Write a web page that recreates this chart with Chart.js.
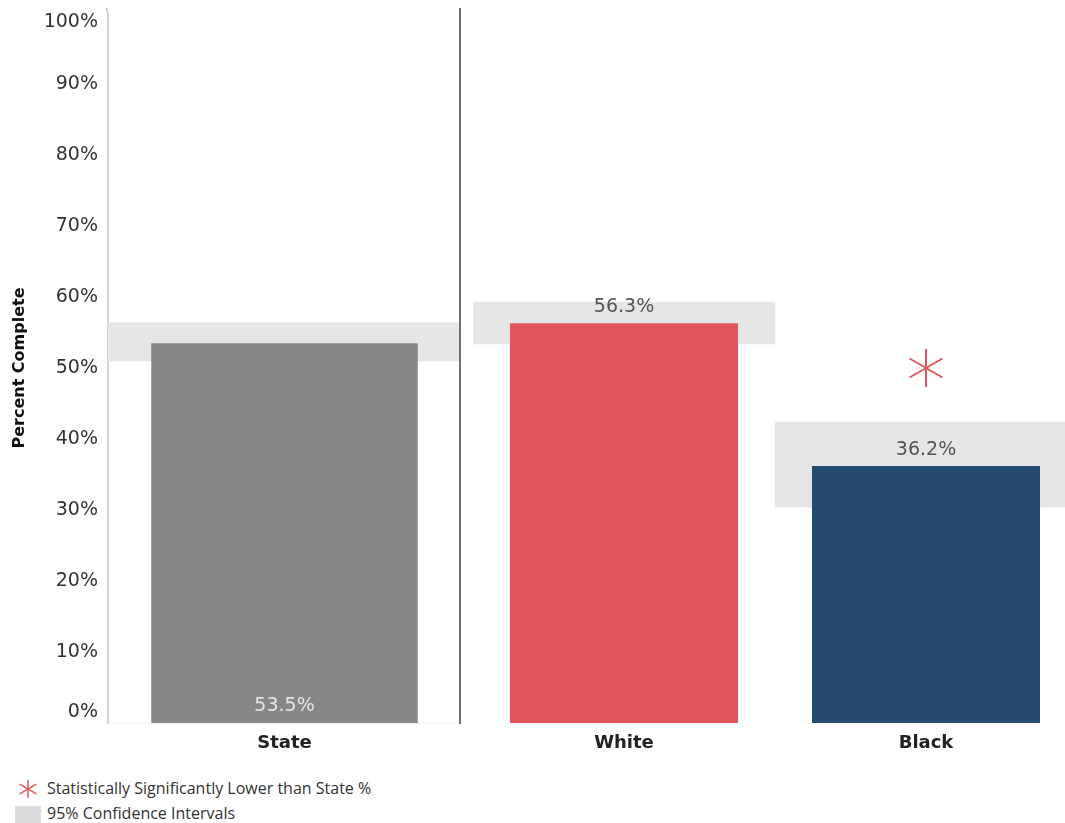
<!DOCTYPE html>
<html>
<head>
<meta charset="utf-8">
<script src="https://cdn.jsdelivr.net/npm/chart.js@4.4.1/dist/chart.umd.min.js"></script>
<style>
  html, body { margin:0; padding:0; background:#fff; overflow:hidden; width:1065px; height:823px; }
  #c1wrap { position:absolute; left:0; top:0; width:461px; height:755px; }
  #c2wrap { position:absolute; left:460px; top:0; width:617px; height:755px; }
  .leg { position:absolute; font-family:"Open Sans", sans-serif; font-size:16px; color:#333; line-height:20px; white-space:nowrap; }
  #legbox { position:absolute; left:15px; top:806px; width:26px; height:17px; background:#dcdcdc; }
</style>
</head>
<body>
<div id="c1wrap"><canvas id="c1"></canvas></div>
<div id="c2wrap"><canvas id="c2"></canvas></div>

<svg style="position:absolute;left:18px;top:779px" width="20" height="20" viewBox="-10 -10 20 20">
  <g stroke="#e15759" stroke-width="1.5">
    <line x1="0" y1="-9" x2="0" y2="9"/>
    <line x1="-8.5" y1="-4.9" x2="8.5" y2="4.9"/>
    <line x1="-8.5" y1="4.9" x2="8.5" y2="-4.9"/>
  </g>
</svg>
<div class="leg" style="left:47px;top:778px">Statistically Significantly Lower than State %</div>
<div id="legbox"></div>
<div class="leg" style="left:47px;top:803px">95% Confidence Intervals</div>

<script>
// ---- data ----
const stateCategories = ['State'];
const stateValues = [53.5];
const stateCI = [[51.0, 56.4]];

const raceCategories = ['White', 'Black'];
const raceValues = [56.3, 36.2];
const raceCI = [[53.4, 59.3], [30.4, 42.4]];
const significantlyLower = [null, 50.0]; // asterisk marker position

const yTickValues = [0, 10, 20, 30, 40, 50, 60, 70, 80, 90, 100];

// ---- styles ----
const FONT = '"DejaVu Sans", sans-serif';
const BAND = '#e6e6e6';

function makeAsterisk(size, color, lw) {
  const c = document.createElement('canvas');
  c.width = size; c.height = size;
  const g = c.getContext('2d');
  const r = size / 2 - 1;
  g.strokeStyle = color; g.lineWidth = lw; g.lineCap = 'butt';
  g.translate(size / 2, size / 2);
  [90, 30, 150].forEach(a => {
    const t = a * Math.PI / 180;
    g.beginPath();
    g.moveTo(-r * Math.cos(t), -r * Math.sin(t));
    g.lineTo(r * Math.cos(t), r * Math.sin(t));
    g.stroke();
  });
  return c;
}
const asteriskImg = makeAsterisk(40, '#e15759', 2);

const valueLabels = {
  id: 'valueLabels',
  afterDatasetsDraw(chart, args, opts) {
    const meta = chart.getDatasetMeta(opts.datasetIndex);
    const ds = chart.data.datasets[opts.datasetIndex];
    const ctx = chart.ctx;
    ctx.save();
    ctx.font = '19px ' + FONT;
    ctx.textAlign = 'center';
    ctx.textBaseline = 'middle';
    ctx.fillStyle = opts.color;
    meta.data.forEach((bar, i) => {
      const v = ds.data[i];
      const y = opts.inside ? bar.base - 17 : bar.y - 16;
      ctx.fillText(v.toFixed(1) + '%', bar.x, y);
    });
    ctx.restore();
  }
};

// Tableau-style: keep the end tick labels inside the axis span
const clampEndLabels = {
  id: 'clampEndLabels',
  beforeDraw(chart) {
    const s = chart.scales.y;
    if (!s || !s.options.display || !s.getLabelItems) return;
    const items = s.getLabelItems();
    if (!items || !items.length) return;
    items.forEach(it => {
      if (!it.options || !it.options.translation) return;
      if (it.label === '0%') it.options.translation[1] = s.bottom - 11;
      if (it.label === '100%') it.options.translation[1] = s.top + 9;
    });
  }
};

const separator = {
  id: 'separator',
  afterDraw(chart) {
    const ctx = chart.ctx, a = chart.chartArea;
    ctx.save();
    ctx.strokeStyle = '#707070';
    ctx.lineWidth = 2;
    ctx.beginPath();
    ctx.moveTo(a.right - 1, 8);
    ctx.lineTo(a.right - 1, a.bottom + 1);
    ctx.stroke();
    ctx.strokeStyle = '#d4d4d4';
    ctx.beginPath();
    ctx.moveTo(a.left - 1, 8);
    ctx.lineTo(a.left - 1, a.top);
    ctx.stroke();
    ctx.restore();
  }
};

function yScale(show) {
  return {
    display: show,
    min: 0, max: 100,
    afterBuildTicks(s) { s.ticks = yTickValues.map(v => ({ value: v })); },
    afterFit(s) { s.width = show ? 108 : 0; s.paddingTop = 0; s.paddingBottom = 0; },
    grid: { display: false, drawTicks: false },
    border: { display: show, color: '#d4d4d4', width: 2 },
    ticks: {
      padding: 10,
      color: '#333',
      font: { family: FONT, size: 19 },
      callback: v => v + '%'
    },
    title: {
      display: show,
      text: 'Percent Complete',
      color: '#111',
      font: { family: FONT, size: 16, weight: 'bold' },
      padding: { top: 10, bottom: 0 }
    }
  };
}

function xScale(borderShow) {
  return {
    afterFit(s) { s.height = 32; s.paddingLeft = 0; s.paddingRight = 0; },
    grid: { display: false, drawTicks: false },
    border: { display: borderShow, color: '#efefef', width: 1 },
    ticks: {
      padding: 10,
      color: '#222',
      font: { family: FONT, size: 18, weight: 'bold' }
    }
  };
}

const common = {
  responsive: true,
  maintainAspectRatio: false,
  animation: false,
  events: [],
  plugins: { legend: { display: false }, tooltip: { enabled: false } }
};

new Chart(document.getElementById('c1'), {
  type: 'bar',
  data: {
    labels: stateCategories,
    datasets: [
      { data: stateCI, backgroundColor: BAND, grouped: false, barPercentage: 1, categoryPercentage: 1, order: 2 },
      { data: stateValues, backgroundColor: '#878787', grouped: false, barPercentage: 0.755, categoryPercentage: 1, order: 1 }
    ]
  },
  options: Object.assign({}, common, {
    layout: { autoPadding: false, padding: { top: 13, left: 0, right: 0, bottom: 0 } },
    scales: { x: xScale(true), y: yScale(true) },
    plugins: Object.assign({}, common.plugins, {
      valueLabels: { datasetIndex: 1, inside: true, color: '#e4e4e4' }
    })
  }),
  plugins: [valueLabels, separator, clampEndLabels]
});

new Chart(document.getElementById('c2'), {
  type: 'bar',
  data: {
    labels: raceCategories,
    datasets: [
      { data: raceCI, backgroundColor: BAND, grouped: false, barPercentage: 1, categoryPercentage: 1, order: 2 },
      { data: raceValues, backgroundColor: ['#e0565a', '#244a6d'], grouped: false, barPercentage: 0.755, categoryPercentage: 1, order: 1 },
      { type: 'line', data: significantlyLower, showLine: false, pointStyle: asteriskImg, pointRadius: 19, order: 0, clip: false }
    ]
  },
  options: Object.assign({}, common, {
    layout: { autoPadding: false, padding: { top: 13, left: 13, right: 0, bottom: 0 } },
    scales: { x: xScale(false), y: yScale(false) },
    plugins: Object.assign({}, common.plugins, {
      valueLabels: { datasetIndex: 1, inside: false, color: '#555' }
    })
  }),
  plugins: [valueLabels]
});
</script>
</body>
</html>
